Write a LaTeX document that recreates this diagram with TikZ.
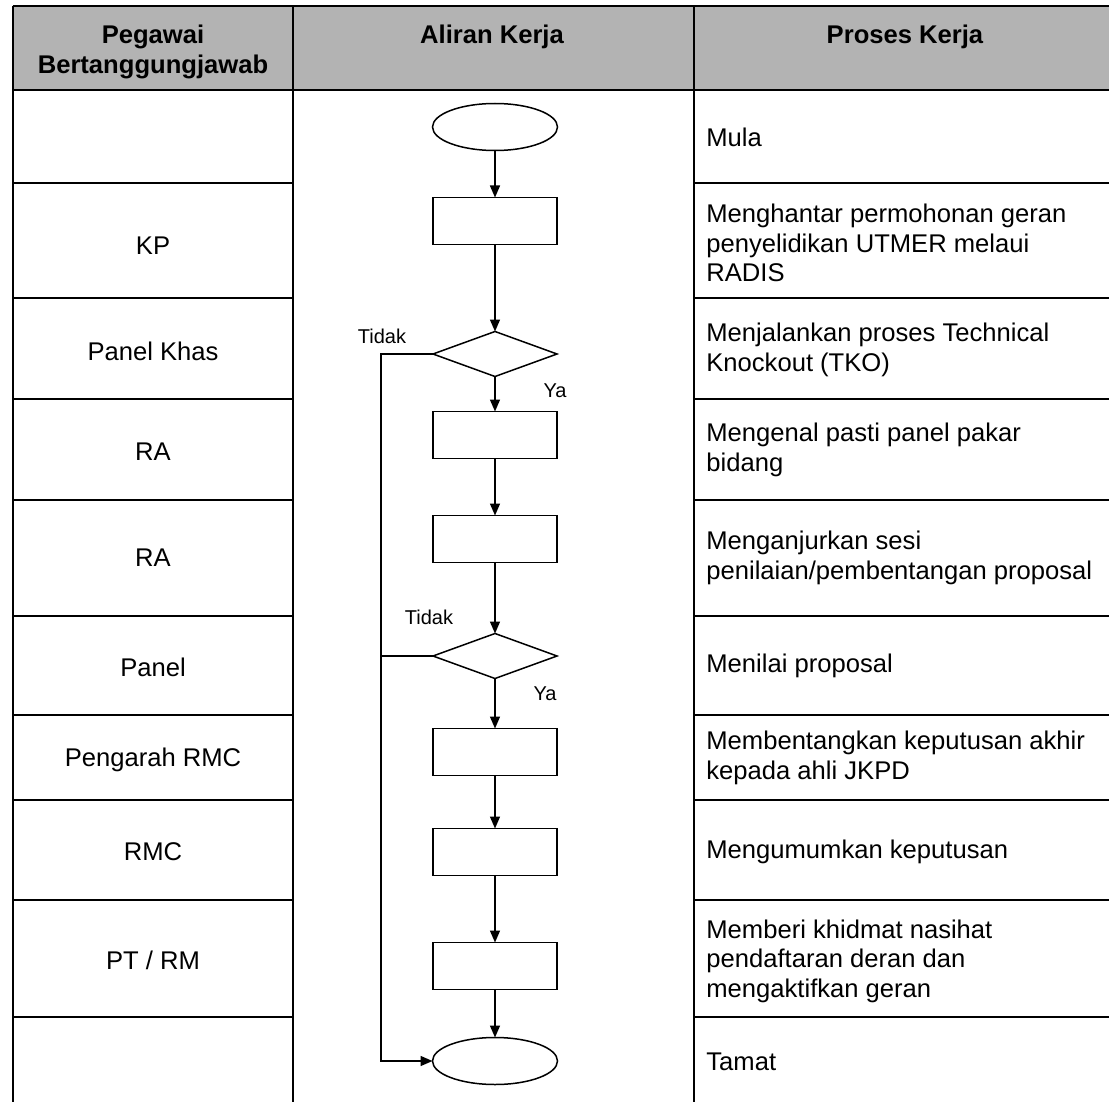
\documentclass[tikz,border=0pt]{standalone}
\usepackage{fontspec}
\setmainfont{Liberation Sans}
\usetikzlibrary{shapes.geometric,arrows.meta,positioning}

\definecolor{kopfgrau}{RGB}{179,179,179}

\begin{document}
\begin{tikzpicture}[x=0.5pt,y=-0.5pt,
		txt/.style={font=\fontsize{12.8}{14.8}\selectfont, inner sep=0pt},
		kopf/.style={font=\fontsize{12.8}{14.8}\selectfont\bfseries, inner sep=0pt, align=center, anchor=north},
		lbl/.style={font=\fontsize{10}{12}\selectfont, inner sep=0pt},
		kasten/.style={draw, line width=0.75pt, minimum width=62pt, minimum height=23.5pt, inner sep=0pt, outer sep=0pt},
		oval/.style={kasten, ellipse, minimum width=62.5pt, minimum height=23.5pt},
		raute/.style={kasten, diamond, minimum width=62pt, minimum height=22.5pt},
		pfeil/.style={-{Triangle[length=6pt,width=5pt]}, line width=0.75pt}]
			\useasboundingbox (0,0) rectangle (1109,1102);

			% tabelle, mittlere spalte ohne zeilen
			\fill[kopfgrau] (12.7,6) rectangle (1109,90);
			\draw[line width=1pt] (12.7,6) -- (1109,6)
				(12.7,90) -- (1109,90);
			\draw[line width=1pt] (12.7,183) -- (293,183) (694,183) -- (1109,183)
				(12.7,298) -- (293,298) (694,298) -- (1109,298)
				(12.7,399) -- (293,399) (694,399) -- (1109,399)
				(12.7,500) -- (293,500) (694,500) -- (1109,500)
				(12.7,616) -- (293,616) (694,616) -- (1109,616)
				(12.7,715) -- (293,715) (694,715) -- (1109,715)
				(12.7,800) -- (293,800) (694,800) -- (1109,800)
				(12.7,900) -- (293,900) (694,900) -- (1109,900)
				(12.7,1017) -- (293,1017) (694,1017) -- (1109,1017);
			\draw[line width=1pt] (12.7,6) -- (12.7,1102)
				(293,6) -- (293,1102)
				(694,6) -- (694,1102);

			\node[kopf] (hpeg) at (153,25) {Pegawai\\Bertanggungjawab};
			\node[kopf] (hali) at (492,25) {Aliran Kerja};
			\node[kopf] (hpro) at (905,25) {Proses Kerja};

			% pegawai
			\node[txt] (pkp) at (153,246) {KP};
			\node[txt] (ppk) at (153,351) {Panel Khas};
			\node[txt] (pra) at (153,452) {RA};
			\node[txt] (pra2) at (153,558) {RA};
			\node[txt] (ppan) at (153,667) {Panel};
			\node[txt] (prmcp) at (153,760) {Pengarah RMC};
			\node[txt] (prmc) at (153,852) {RMC};
			\node[txt] (pptrm) at (153,960) {PT / RM};

			% proses kerja
			\node[txt, anchor=west] (kmula) at (706,137) {Mula};
			\node[txt, anchor=west, align=left] (khantar) at (706,243) {Menghantar permohonan geran\\penyelidikan UTMER melaui\\RADIS};
			\node[txt, anchor=west, align=left] (ktko) at (706,350) {Menjalankan proses Technical\\Knockout (TKO)};
			\node[txt, anchor=west, align=left] (kkenal) at (706,450) {Mengenal pasti panel pakar\\bidang};
			\node[txt, anchor=west, align=left] (kanjur) at (706,558) {Menganjurkan sesi\\penilaian/pembentangan proposal};
			\node[txt, anchor=west] (knilai) at (706,666) {Menilai proposal};
			\node[txt, anchor=west, align=left] (kbentang) at (706,758) {Membentangkan keputusan akhir\\kepada ahli JKPD};
			\node[txt, anchor=west] (kumum) at (706,852) {Mengumumkan keputusan};
			\node[txt, anchor=west, align=left] (kberi) at (706,961) {Memberi khidmat nasihat\\pendaftaran deran dan\\mengaktifkan geran};
			\node[txt, anchor=west] (ktamat) at (706,1062) {Tamat};

			% aliran
			\node[oval] (mula) at (495,127) {};
			\node[kasten] (hantar) at (495,221) {};
			\node[raute] (tko) at (495,354) {};
			\node[kasten] (kenal) at (495,435) {};
			\node[kasten] (anjur) at (495,539) {};
			\node[raute] (nilai) at (495,656) {};
			\node[kasten] (bentang) at (495,752) {};
			\node[kasten] (umum) at (495,852) {};
			\node[kasten] (beri) at (495,966) {};
			\node[oval] (tamat) at (495,1061) {};
			\coordinate (links) at (381,0);

			\draw[pfeil] (mula) -- (hantar);
			\draw[pfeil] (hantar) -- (tko);
			\draw[pfeil] (tko) -- (kenal);
			\draw[pfeil] (kenal) -- (anjur);
			\draw[pfeil] (anjur) -- (nilai);
			\draw[pfeil] (nilai) -- (bentang);
			\draw[pfeil] (bentang) -- (umum);
			\draw[pfeil] (umum) -- (beri);
			\draw[pfeil] (beri) -- (tamat);
			\draw[pfeil] (tko.west) -- (tko.west -| links) |- (tamat.west);
			\draw[line width=0.75pt] (nilai.west) -- (nilai.west -| links);

			\node[lbl] (tidak1) at (382,336) {Tidak};
			\node[lbl] (ya1) at (555,391) {Ya};
			\node[lbl] (tidak2) at (429,617) {Tidak};
			\node[lbl] (ya2) at (545,694) {Ya};
		\end{tikzpicture}
\end{document}
